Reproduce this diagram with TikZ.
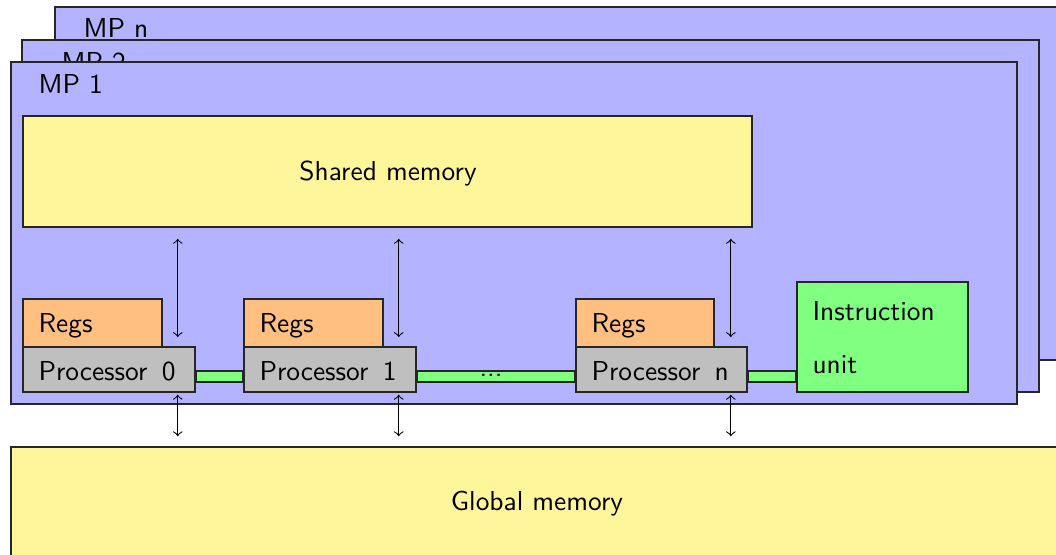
\documentclass[tikz,border=0pt]{standalone}
\usetikzlibrary{fit}
\renewcommand{\familydefault}{\sfdefault}
\definecolor{mpblue}{RGB}{179,179,255}
\definecolor{memyellow}{RGB}{255,245,155}
\begin{document}
\begin{tikzpicture}[x=0.365pt,y=-0.365pt,
  box/.style={draw=black!85, semithick, inner sep=0pt},
  mpbox/.style={box, fill=mpblue},
  mem/.style={box, fill=memyellow},
  regs/.style={box, fill=orange!50},
  proc/.style={box, fill=gray!50},
  iunit/.style={box, fill=green!50},
  lbl/.style={inner sep=0pt, anchor=base west, font=\sffamily},
  clbl/.style={inner sep=0pt, anchor=base, font=\sffamily},
  bus/.style={draw=black!85, semithick, fill=green!50},
  link/.style={<->, thin}]
\useasboundingbox (0,0) rectangle (1056,555);
\clip (0,0) rectangle (1056,555);
% multiprocessor planes
\node[mpbox, fit={(55,7) (1110,360)}] (mpn) {};
\node[lbl] (mpnl) at (83,38) {MP n};
\node[mpbox, fit={(22,40) (1039,392)}] (mp2) {};
\node[lbl] (mp2l) at (61,72) {MP 2};
\node[mpbox, fit={(11,62) (1017,404)}] (mp1) {};
\node[lbl] (mp1l) at (38,93.5) {MP 1};
% shared memory
\node[mem, fit={(23,116) (752,227)}] (sm) {};
\node[clbl] (sml) at (388,180.5) {Shared memory};
% bus line reference
\coordinate (bt) at (0,371);
\coordinate (bb) at (0,382);
% processors
\node[regs, fit={(23,299) (162,347)}] (r0) {};
\node[lbl] (r0l) at (38,332.5) {Regs};
\node[proc, fit={(23,347) (195,392)}] (p0) {};
\node[lbl] (p0l) at (38,380.5) {Processor\hspace{5.2pt}0};
\node[regs, fit={(244,299) (383,347)}] (r1) {};
\node[lbl] (r1l) at (259,332.5) {Regs};
\node[proc, fit={(244,347) (416,392)}] (p1) {};
\node[lbl] (p1l) at (259,380.5) {Processor\hspace{5.2pt}1};
\node[regs, fit={(576,299) (714,347)}] (rn) {};
\node[lbl] (rnl) at (591,332.5) {Regs};
\node[proc, fit={(576,347) (747,392)}] (pn) {};
\node[lbl] (pnl) at (591,380.5) {Processor\hspace{5.2pt}n};
% instruction unit
\node[iunit, fit={(797,282) (968,392)}] (iu) {};
\node[lbl, align=left] (iul) at (812,374) {Instruction\\[7.5pt]unit};
% bus
\draw[bus] (p0.east |- bt) rectangle (p1.west |- bb);
\draw[bus] (p1.east |- bt) rectangle (pn.west |- bb);
\draw[bus] (pn.east |- bt) rectangle (iu.west |- bb);
\node[inner sep=0pt, font=\sffamily] (dots) at (491,375) {...};
% global memory
\node[mem, fit={(11,447) (1063,556)}] (gm) {};
\node[clbl] (gml) at (537,510.5) {Global memory};
% links
\coordinate (a0) at ([xshift=-6.6pt]p0.north east);
\coordinate (a1) at ([xshift=-6.6pt]p1.north east);
\coordinate (an) at ([xshift=-6.2pt]pn.north east);
\coordinate (b0) at ([xshift=-6.6pt]p0.south east);
\coordinate (b1) at ([xshift=-6.6pt]p1.south east);
\coordinate (bn) at ([xshift=-6.2pt]pn.south east);
\draw[link, shorten <=4pt, shorten >=3.3pt] (sm.south -| a0) -- (a0);
\draw[link, shorten <=4pt, shorten >=3.3pt] (sm.south -| a1) -- (a1);
\draw[link, shorten <=4pt, shorten >=3.3pt] (sm.south -| an) -- (an);
\draw[link, shorten <=0.7pt, shorten >=3.6pt] (b0) -- (gm.north -| b0);
\draw[link, shorten <=0.7pt, shorten >=3.6pt] (b1) -- (gm.north -| b1);
\draw[link, shorten <=0.7pt, shorten >=3.6pt] (bn) -- (gm.north -| bn);
\end{tikzpicture}
\end{document}
